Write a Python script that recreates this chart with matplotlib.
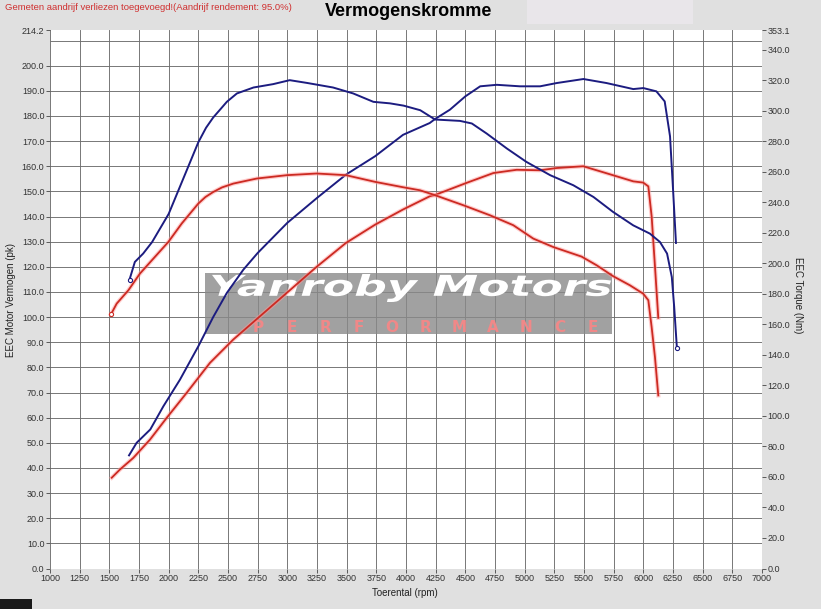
import matplotlib.pyplot as plt
from matplotlib.patches import Rectangle, PathPatch
from matplotlib.textpath import TextPath
from matplotlib.font_manager import FontProperties
from matplotlib.transforms import Affine2D
import numpy as np

plt.rcParams['font.family'] = ['Liberation Sans', 'DejaVu Sans']

# Values (rpm, pk / Nm)
rpm_blue_power = [1666, 1730, 1845, 1955, 2095, 2250, 2375, 2490, 2630, 2750, 3000, 3250,
                  3495, 3740, 3975, 4200, 4245, 4370, 4500, 4625, 4765, 4960, 5130, 5270,
                  5495, 5690, 5915, 6000, 6110, 6180, 6225, 6252, 6275]
blue_power_pk = [45.0, 50.0, 55.3, 64.5, 75.1, 88.4, 100.0, 109.6, 118.9, 125.5, 137.5, 147.4,
                 156.7, 164.0, 172.5, 177.2, 178.8, 182.5, 187.8, 191.8, 192.4, 191.8, 191.8, 193.1,
                 194.7, 193.1, 190.7, 191.1, 189.8, 185.8, 171.9, 149.4, 129.5]

rpm_blue_torque = [1670, 1715, 1785, 1860, 2000, 2125, 2250, 2315, 2375, 2440, 2490, 2575, 2715,
                   2880, 3020, 3165, 3385, 3555, 3725, 3865, 3980, 4120, 4245, 4455, 4555, 4680,
                   4850, 5015, 5215, 5410, 5580, 5745, 5915, 6055, 6140, 6200, 6240, 6260, 6283]
blue_torque_nm = [189.4, 201.0, 206.5, 214.0, 232.5, 256.0, 279.5, 289.0, 295.7, 301.5, 306.0, 311.5,
                  315.4, 317.6, 320.2, 318.4, 315.4, 311.5, 306.0, 305.0, 303.5, 300.5, 294.4, 293.5,
                  291.8, 285.2, 275.4, 266.6, 257.9, 251.3, 243.6, 233.8, 225.0, 219.6, 214.1, 206.5,
                  191.1, 171.5, 144.4]

rpm_red_power = [1520, 1590, 1702, 1843, 1983, 2152, 2348, 2545, 2742, 2980, 3247, 3494,
                 3741, 3975, 4202, 4240, 4511, 4736, 4933, 5129, 5270, 5494, 5635, 5775,
                 5915, 5999, 6042, 6070, 6098, 6126]
red_power_pk = [36.1, 39.4, 44.0, 51.3, 59.9, 69.9, 81.8, 91.1, 99.2, 109.0, 120.0, 129.5,
                136.8, 142.8, 148.1, 148.5, 153.4, 157.3, 158.6, 158.4, 159.3, 160.0, 158.0, 156.0,
                154.0, 153.5, 152.0, 140.1, 120.2, 99.7]

rpm_red_torque = [1514, 1562, 1660, 1758, 1871, 1997, 2110, 2250, 2310, 2376, 2450, 2545, 2742,
                  2995, 3247, 3494, 3741, 3975, 4118, 4244, 4483, 4708, 4904, 5073, 5241, 5480,
                  5607, 5747, 5887, 5999, 6042, 6070, 6098, 6126]
red_torque_nm = [166.7, 173.7, 182.4, 193.4, 203.2, 214.1, 226.2, 239.3, 243.6, 246.9, 249.9, 252.4,
                 255.7, 257.9, 259.0, 257.9, 253.5, 250.0, 248.0, 244.8, 238.2, 231.6, 225.1, 216.3,
                 210.8, 204.5, 198.8, 191.6, 185.7, 180.2, 175.9, 158.3, 138.6, 113.5]

x_ticks = list(range(1000, 7001, 250))
left_ticks = list(range(0, 201, 10))
left_top = 214.2
left_grid = list(range(10, 211, 10))
right_ticks = list(range(0, 341, 20))
right_top = 353.1

BLUE = '#1c1c80'
RED = '#cc2a22'
GLOW = '#ff9a9a'
GRID = '#6e6e6e'

W, H = 821, 609
fig = plt.figure(figsize=(W / 100, H / 100), dpi=100, facecolor='#e0e0e0')
ax = fig.add_axes([50 / W, 1 - 568.5 / H, 712 / W, 538.5 / H])
ax.set_facecolor('white')
ax.set_xlim(1000, 7000)
ax.set_ylim(0, left_top)
ax2 = ax.twinx()
ax2.set_ylim(0, right_top)

for a in (ax, ax2):
    for s in a.spines.values():
        s.set_visible(False)
    a.tick_params(direction='out', length=3, width=0.6, color='#444444',
                  labelsize=6.5, labelcolor='#333333', pad=1)

ax.set_xticks(x_ticks)
ax.set_xticklabels([str(v) for v in x_ticks])
ax.set_yticks(left_ticks + [left_top])
ax.set_yticklabels([f'{v:.1f}' for v in left_ticks + [left_top]])
ax2.set_yticks(right_ticks + [right_top])
ax2.set_yticklabels([f'{v:.1f}' for v in right_ticks + [right_top]])

# grid
ax.set_axisbelow(True)
ax.xaxis.grid(True, color=GRID, lw=0.65)
ax.hlines(left_grid, 1000, 7000, color=GRID, lw=0.65, zorder=0.6)

# watermark box
ax.add_patch(Rectangle((205 / W, 1 - 334 / H), 407 / W, 61 / H, transform=fig.transFigure,
                       facecolor='#8a8a8a', edgecolor='none', alpha=0.8, zorder=2))


def stretched_text(s, x0, y0, x1, y1, color, weight='bold', style='italic'):
    # draw text squeezed into a pixel box (figure pixel coords, y from top)
    tp = TextPath((0, 0), s, size=1,
                  prop=FontProperties(family='DejaVu Sans', weight=weight, style=style))
    ext = tp.get_extents()
    sx = (x1 - x0) / ext.width / W
    sy = (y1 - y0) / ext.height / H
    tr = Affine2D().translate(-ext.x0, -ext.y0).scale(sx, sy).translate(x0 / W, 1 - y1 / H)
    ax.add_patch(PathPatch(tp, transform=tr + fig.transFigure, facecolor=color,
                           edgecolor='none', zorder=2.5))


stretched_text('Yanroby Motors', 212, 274, 611, 302, 'white')
for i, ch in enumerate('PERFORMANCE'):
    ax.text((258 + i * 33.5) / W, 1 - 327.5 / H, ch, transform=fig.transFigure, ha='center',
            va='center', fontsize=11, fontweight='bold', color='#f08888',
            family='DejaVu Sans', zorder=2.5)

# curves
ax.plot(rpm_red_power, red_power_pk, color=GLOW, lw=3, alpha=0.5, zorder=3)
ax.plot(rpm_red_power, red_power_pk, color=RED, lw=1.3, zorder=3.1)
ax.plot(rpm_blue_power, blue_power_pk, color=BLUE, lw=1.4, zorder=3.2)
ax2.plot(rpm_red_torque, red_torque_nm, color=GLOW, lw=3, alpha=0.5)
ax2.plot(rpm_red_torque, red_torque_nm, color=RED, lw=1.3, marker='o', ms=3,
         mfc='white', mew=0.8, markevery=[0])
ax2.plot(rpm_blue_torque, blue_torque_nm, color=BLUE, lw=1.4, marker='o', ms=3,
         mfc='white', mew=0.8, markevery=[0, -1])

# texts
fig.patches.append(Rectangle((527 / W, 1 - 24 / H), 166 / W, 24 / H, transform=fig.transFigure,
                             facecolor='#e9e6ea', edgecolor='none', zorder=0))
fig.text(409 / W, 1 - 12 / H, 'Vermogenskromme', ha='center', va='center',
         fontsize=13, fontweight='bold')
fig.text(5 / W, 1 - 8 / H, 'Gemeten aandrijf verliezen toegevoegd!(Aandrijf rendement: 95.0%)',
         ha='left', va='center', fontsize=6.8, color='#d03030')
fig.text(405 / W, 1 - 593 / H, 'Toerental (rpm)', ha='center', va='center', fontsize=7,
         color='#222222')
fig.text(11 / W, 1 - 300 / H, 'EEC Motor Vermogen (pk)', ha='center', va='center',
         rotation=90, fontsize=7, color='#222222')
fig.text(798 / W, 1 - 295 / H, 'EEC Torque (Nm)', ha='center', va='center',
         rotation=270, fontsize=7, color='#222222')

fig.patches.append(Rectangle((0, 0), 32 / W, 10 / H, transform=fig.transFigure,
                             facecolor='#1a1a1a', edgecolor='none'))

fig.savefig('out.png', dpi=100, facecolor=fig.get_facecolor())
